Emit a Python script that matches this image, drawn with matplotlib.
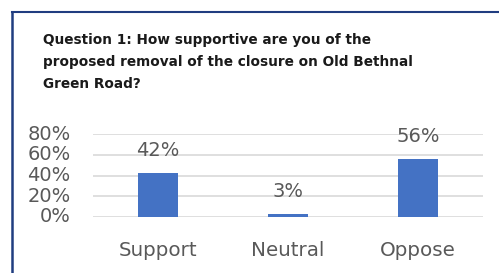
import matplotlib.pyplot as plt
from matplotlib.lines import Line2D

categories = ['Support', 'Neutral', 'Oppose']
values = [0.42, 0.03, 0.56]
labels = ['42%', '3%', '56%']
yticks = [0, 0.2, 0.4, 0.6, 0.8]
ytick_labels = ['0%', '20%', '40%', '60%', '80%']
title = 'Question 1: How supportive are you of the\nproposed removal of the closure on Old Bethnal\nGreen Road?'

W, H = 499, 273
fig = plt.figure(figsize=(W / 100, H / 100), dpi=100)
fig.patch.set_facecolor('white')

# plot area in pixel coordinates
x0, x1 = 93, 483
y0, y1 = 217, 134
ax = fig.add_axes([x0 / W, 1 - y0 / H, (x1 - x0) / W, (y0 - y1) / H])

grey = '#595959'
ax.bar(range(len(categories)), values, width=0.315, color='#4472C4', zorder=3)
for i, (v, lab) in enumerate(zip(values, labels)):
    ax.text(i, v + 0.22, lab, ha='center', va='center', fontsize=14, color=grey)

ax.set_xlim(-0.5, len(categories) - 0.5)
ax.set_ylim(0, 0.8)
ax.set_yticks(yticks)
ax.set_yticklabels(ytick_labels, fontsize=14, color=grey)
ax.set_xticks(range(len(categories)))
ax.set_xticklabels(categories, fontsize=14.3, color=grey)
ax.tick_params(axis='both', length=0)
ax.tick_params(axis='y', pad=16)
ax.tick_params(axis='x', pad=17)
for lab in ax.get_yticklabels():
    lab.set_verticalalignment('center')
ax.yaxis.grid(True, color='#d9d9d9', linewidth=1.2, zorder=0)
for s in ax.spines.values():
    s.set_visible(False)

fig.text(43 / W, 1 - 33 / H, title, ha='left', va='top', fontsize=9.8,
         fontweight='bold', color='#1a1a1a', linespacing=1.72)

# frame lines (left and top)
fig.add_artist(Line2D([12 / W, 12 / W], [0, 1 - 12 / H], transform=fig.transFigure,
                      color='#203d80', linewidth=1.8))
fig.add_artist(Line2D([12 / W, 1], [1 - 12 / H, 1 - 12 / H], transform=fig.transFigure,
                      color='#203d80', linewidth=1.5))

fig.savefig('out.png', dpi=100)
